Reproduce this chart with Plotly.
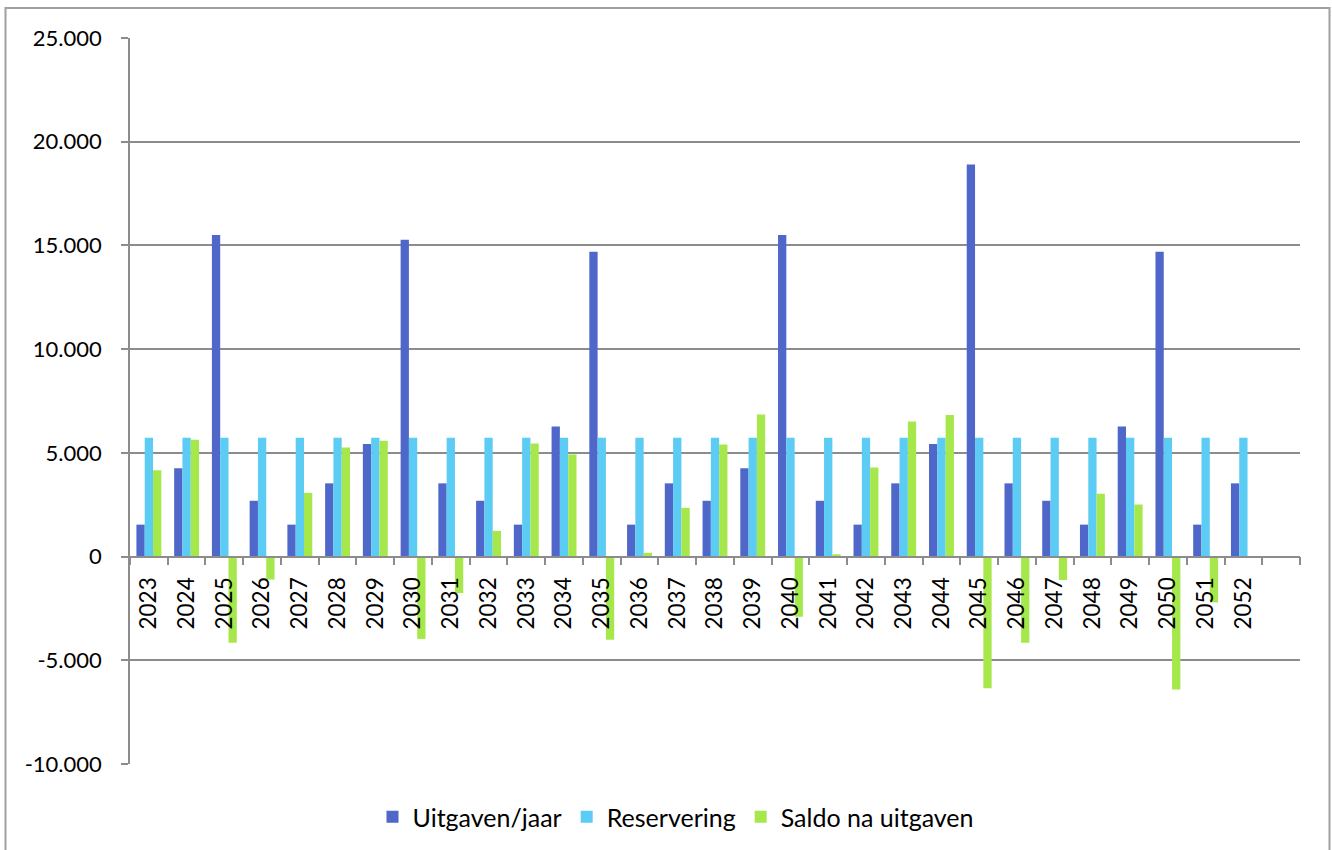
import plotly.graph_objects as go

years = [str(y) for y in range(2023, 2053)]
categories = years + [" "]

uitgaven = [1540, 4260, 15500, 2690, 1540, 3530, 5430, 15270, 3530, 2690,
            1540, 6270, 14700, 1540, 3530, 2690, 4260, 15500, 2690, 1540,
            3530, 5430, 18900, 3530, 2690, 1540, 6270, 14700, 1540, 3530]
reservering = [5730] * 30
saldo = [4160, 5630, -4160, -1110, 3070, 5260, 5580, -3970, -1760, 1240,
         5450, 4920, -4010, 180, 2350, 5400, 6850, -2900, 110, 4290,
         6510, 6820, -6350, -4160, -1130, 3030, 2510, -6410, -2210, 0]

y_tickvals = [-10000, -5000, 0, 5000, 10000, 15000, 20000, 25000]
y_ticktext = ["-10.000", "-5.000", "0", "5.000", "10.000", "15.000", "20.000", "25.000"]

series_names = ["Uitgaven/jaar", "Reservering", "Saldo na uitgaven"]
series_colors = ["#4F67C9", "#5CCCF4", "#A6E84C"]

FONT = "Lato"
GRID = "#8C8C8C"

fig = go.Figure()
for name, vals, col in zip(series_names, [uitgaven, reservering, saldo], series_colors):
    fig.add_trace(go.Bar(
        x=years, y=vals, name=name,
        marker=dict(color=col, line=dict(width=0)),
    ))

W, H = 1332, 850
L, R, T, B = 130, 32, 38, 86
pw = W - L - R
ph = H - T - B

ymin, ymax = -10000, 25000
zero_pos = (0 - ymin) / (ymax - ymin)

def px_x(p):
    return (p - L) / pw

def px_y(p):
    return (H - B - p) / ph

fig.update_layout(
    width=W, height=H,
    margin=dict(l=L, r=R, t=T, b=B, autoexpand=False),
    paper_bgcolor="white", plot_bgcolor="white",
    font=dict(family=FONT, size=22, color="black"),
    barmode="group", bargap=0.34, bargroupgap=0,
    showlegend=True,
    legend=dict(orientation="h", x=px_x(676), y=px_y(817),
                xanchor="center", yanchor="middle",
                font=dict(family=FONT, size=25, color="black"),
                itemwidth=30, tracegroupgap=0),
    xaxis=dict(
        type="category", categoryorder="array", categoryarray=categories,
        range=[-0.5, len(categories) - 0.5],
        anchor="free", position=zero_pos,
        tickson="boundaries", ticks="outside", ticklen=8, tickcolor=GRID, tickwidth=1.5,
        tickangle=-90, ticklabelstandoff=11,
        showline=True, linecolor=GRID, linewidth=1.5,
        showgrid=False, zeroline=False,
        tickfont=dict(family=FONT, size=22.5, color="black"),
    ),
    yaxis=dict(
        range=[ymin, ymax], tickvals=y_tickvals, ticktext=y_ticktext,
        ticks="outside", ticklen=7, tickcolor=GRID, tickwidth=1.5,
        showline=True, linecolor=GRID, linewidth=1.5,
        showgrid=True, gridcolor=GRID, gridwidth=1.5,
        zeroline=False, ticklabelstandoff=15,
        tickfont=dict(family=FONT, size=22, color="black"),
    ),
)

fig.add_shape(type="rect", xref="paper", yref="paper",
              x0=px_x(5.5), x1=px_x(1329.5), y0=px_y(856), y1=px_y(8),
              line=dict(color="#A0A0A0", width=2), fillcolor="rgba(0,0,0,0)", layer="below")

fig.write_html("out.html", config={"displayModeBar": False},
               post_script="document.body.style.margin='0';document.body.style.overflow='hidden';")
